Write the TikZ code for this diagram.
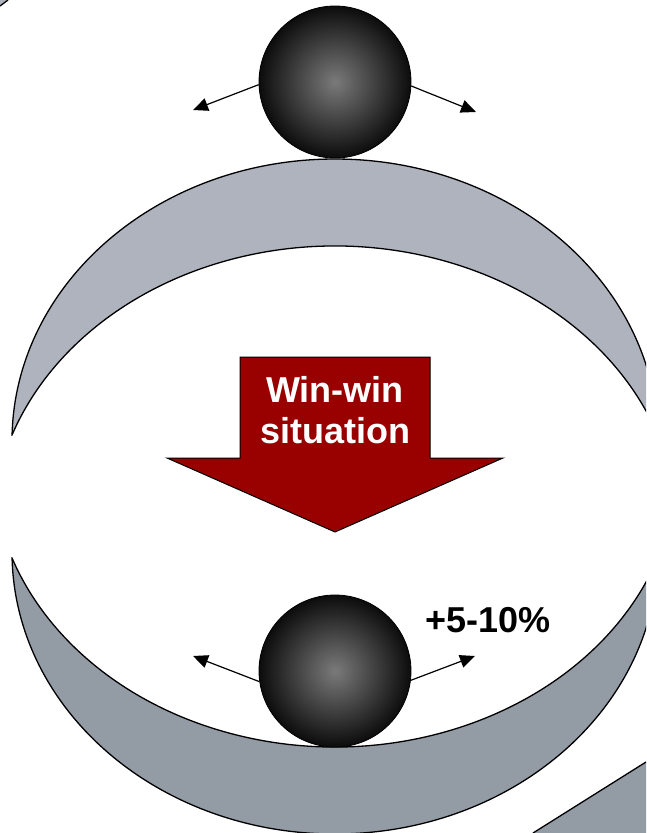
\documentclass[tikz,border=0pt]{standalone}
\usepackage{fontspec}
\setmainfont{Liberation Sans}
\usetikzlibrary{arrows.meta}
\definecolor{archgrey}{RGB}{175,179,189}
\definecolor{bowlgrey}{RGB}{147,155,165}
\definecolor{winred}{RGB}{153,0,0}
\definecolor{ballin}{RGB}{122,122,122}
\definecolor{ballout}{RGB}{12,12,12}
\tikzset{
  ball/.style={circle, draw=black, line width=0.8pt, inner color=ballin, outer color=ballout, minimum size=152pt, inner sep=0pt},
  push/.style={line width=1.2pt, -{Triangle[length=15pt,width=13pt]}},
  edge/.style={draw=black, line width=1.3pt},
  bigtext/.style={font=\bfseries\fontsize{36}{41}\selectfont, inner sep=0pt}
}
\begin{document}
\begin{tikzpicture}[x=1pt,y=-1pt]
\useasboundingbox (0,0) rectangle (646,833);
\clip (0,0) rectangle (646,833);
% top-left sliver
\fill[archgrey] (0,0) -- (8,0) -- (0,6) -- cycle;
\draw[edge] (8,0) -- (0,6);
% upper arch (crescent)
\filldraw[fill=archgrey, edge]
  (12.07,435) arc[start angle=178.78, end angle=1.22, x radius=323pt, y radius=282pt]
  arc[start angle=19.69, end angle=160.31, x radius=343pt, y radius=285pt] -- cycle;
% lower bowl (crescent)
\filldraw[fill=bowlgrey, edge]
  (12.07,558) arc[start angle=181.22, end angle=358.78, x radius=323pt, y radius=282pt]
  arc[start angle=340.31, end angle=199.69, x radius=343pt, y radius=285pt] -- cycle;
% bottom-right piece
\fill[bowlgrey] (533,833) -- (646,762) -- (646,840) -- (520,840) -- cycle;
\draw[edge] (533,833) -- (646,762);
% balls
\node[ball] (ballT) at (335,82) {};
\node[ball] (ballB) at (335,671) {};
\coordinate (tl) at (193,110);
\coordinate (tr) at (476,112);
\coordinate (bl) at (193,656);
\coordinate (br) at (475,656);
\draw[push] (ballT.182) -- (tl);
\draw[push] (ballT.357) -- (tr);
\draw[push] (ballB.188) -- (bl);
\draw[push] (ballB.353) -- (br);
% red arrow
\fill[winred, draw=black, line width=1pt] (240,357) -- (430,357) -- (430,458) -- (503,458)
   -- (335,532) -- (167,458) -- (240,458) -- cycle;
\node[bigtext, text=white, align=center] (win) at (335,410) {Win-win\\situation};
\node[bigtext, text=black, anchor=base] (pct) at (488,632) {+5-10\%};
\end{tikzpicture}
\end{document}
